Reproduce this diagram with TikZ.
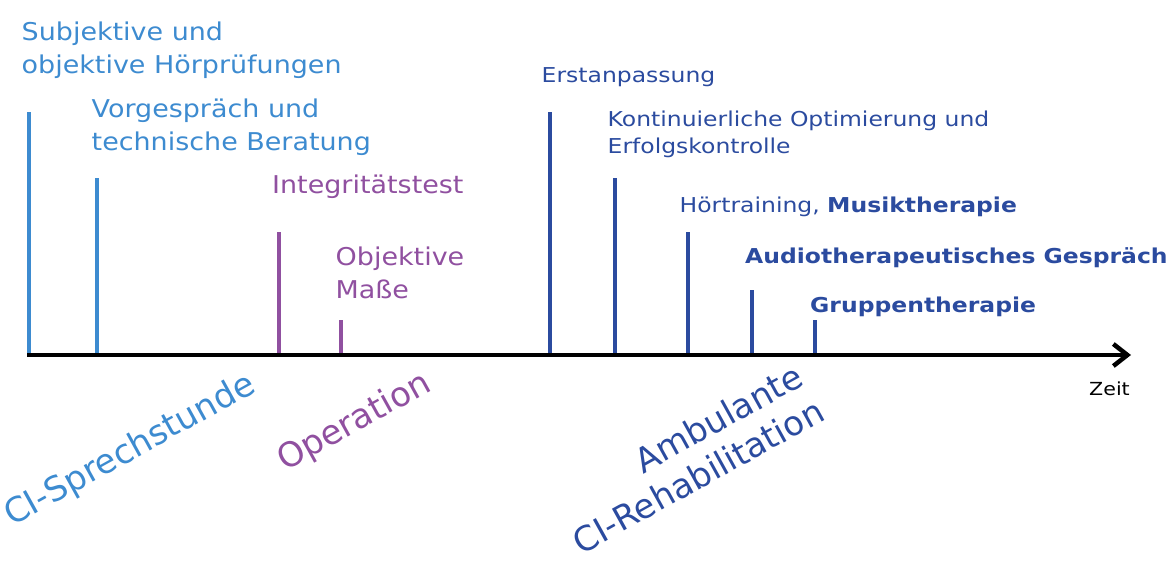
\documentclass[tikz,border=0pt]{standalone}
\usepackage{fontspec}
\setmainfont{DejaVu Sans}
\newfontfamily\grossschrift{DejaVu Sans}[FakeStretch=1.10]
\newfontfamily\kleinschrift{DejaVu Sans}[FakeStretch=1.145]
\usetikzlibrary{arrows.meta}
\definecolor{ciblau}{HTML}{3D8BD0}
\definecolor{oplila}{HTML}{9050A0}
\definecolor{rehablau}{HTML}{2B4B9F}
\begin{document}
\begin{tikzpicture}[x=1pt,y=-1pt,>={Straight Barb[length=14pt,width=22pt]},
		strich/.style={line width=4pt},
		gross/.style={font=\grossschrift\fontsize{24.5}{33}\selectfont,inner sep=0pt,align=left},
		klein/.style={font=\kleinschrift\fontsize{20.5}{27.3}\selectfont,inner sep=0pt,align=left},
		phase/.style={font=\fontsize{34}{42}\selectfont,inner sep=0pt,rotate=29}]
		\useasboundingbox (0,0) rectangle (1170,562);
		\coordinate (start) at (27,355);
		\coordinate (ende) at (1131,355);
		\foreach \name/\xpos/\top/\farbe in {hp/29/112/ciblau,vg/97/178/ciblau,it/279/232/oplila,om/341/320/oplila,
			ea/550/112/rehablau,ko/615/178/rehablau,ht/688/232/rehablau,ag/752/290/rehablau,gt/815/320/rehablau}
		{
			\coordinate (\name) at (\xpos,\top);
			\draw[strich,\farbe] (\name) -- (\name |- start);
		}
		\draw[line width=4.5pt,->] (start) -- (ende);
		\node[font=\kleinschrift\fontsize{18}{22}\selectfont,inner sep=0pt,anchor=base west] (zeit) at (1089,395) {Zeit};
		% Texte
		\node[gross,ciblau,anchor=north west] (hpt) at (21.5,21.4) {Subjektive und\\objektive Hörprüfungen};
		\node[gross,ciblau,anchor=north west] (vgt) at (91.5,98.4) {Vorgespräch und\\technische Beratung};
		\node[gross,oplila,anchor=base west] (itt) at (272,193) {Integritätstest};
		\node[gross,oplila,anchor=north west] (omt) at (335.5,246.4) {Objektive\\Maße};
		\node[klein,rehablau,anchor=base west] (eat) at (541.5,82) {Erstanpassung};
		\node[klein,rehablau,anchor=north west] (kot) at (607.5,110.4) {Kontinuierliche Optimierung und\\Erfolgskontrolle};
		\node[klein,rehablau,anchor=base west] (htt) at (679.5,212) {Hörtraining, \textbf{Musiktherapie}};
		\node[klein,rehablau,anchor=base west,font=\kleinschrift\fontsize{20.5}{27.3}\selectfont\bfseries] (agt) at (745,263) {Audiotherapeutisches Gespräch};
		\node[klein,rehablau,anchor=base west,font=\kleinschrift\fontsize{20.5}{27.3}\selectfont\bfseries] (gtt) at (810,312) {Gruppentherapie};
		% Phasen
		\node[phase,ciblau,anchor=base west] (sprech) at (12,527) {CI-Sprechstunde};
		\node[phase,oplila,anchor=base west] (op) at (285,472) {Operation};
		\node[phase,rehablau,anchor=base east] (amb) at (806,384) {Ambulante};
		\node[phase,rehablau,anchor=base east] (reha) at (827,419) {CI-Rehabilitation};
	\end{tikzpicture}
\end{document}
